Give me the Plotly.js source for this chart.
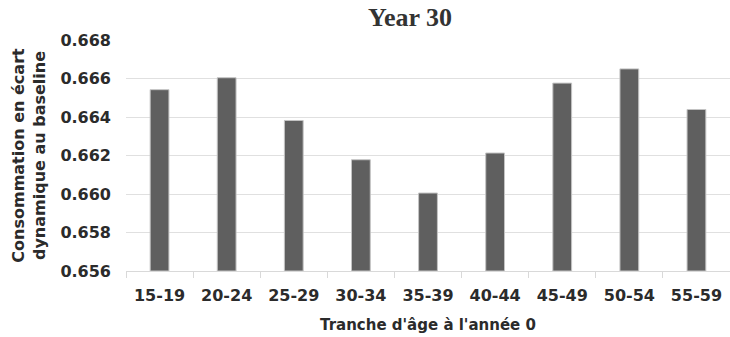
<!DOCTYPE html>
<html>
<head>
<meta charset="utf-8">
<script src="https://cdn.plot.ly/plotly-3.0.1.min.js"></script>
<style>html,body{margin:0;padding:0;background:#fff;}#chart{width:730px;height:337px;}</style>
</head>
<body>
<div id="chart"></div>
<script>
const categories = ["15-19","20-24","25-29","30-34","35-39","40-44","45-49","50-54","55-59"];
const values = [0.66542, 0.66604, 0.66382, 0.66178, 0.66005, 0.66213, 0.66576, 0.66650, 0.66439];
const yTickValues = [0.656, 0.658, 0.660, 0.662, 0.664, 0.666, 0.668];
const baseValue = 0.656;

const textColor = "#2b2b2b";
const tickFont = {family: "DejaVu Sans", size: 16, color: textColor, weight: "bold"};

Plotly.newPlot("chart", [{
  type: "bar",
  x: categories,
  y: values.map(v => v - baseValue),
  base: baseValue,
  marker: {color: "#5f5f5f", line: {color: "#c4c4c4", width: 1}},
  hoverinfo: "skip"
}], {
  width: 730, height: 337,
  margin: {l: 126, r: 0, t: 40, b: 66},
  paper_bgcolor: "#fff", plot_bgcolor: "#fff",
  bargap: 0.72,
  showlegend: false,
  title: {text: "<b>Year 30</b>", font: {family: "Liberation Serif", size: 26, color: "#333"},
          x: 410/730, xanchor: "center", xref: "container", y: 1 - 17/337, yanchor: "middle", yref: "container"},
  xaxis: {
    type: "category",
    tickfont: tickFont,
    showgrid: false,
    showline: true, linecolor: "#d9d9d9", linewidth: 1,
    ticks: "outside", tickson: "boundaries", ticklen: 6, tickcolor: "#d9d9d9",
    ticklabelstandoff: 10,
    title: {text: "Tranche d'âge à l'année 0", font: {family: "DejaVu Sans", size: 15, color: textColor, weight: "bold"}, standoff: 15}
  },
  yaxis: {
    range: [0.656, 0.668],
    tickvals: yTickValues,
    ticktext: yTickValues.map(v => v.toFixed(3)),
    tickfont: tickFont,
    showgrid: true, gridcolor: "#e0e0e0", gridwidth: 1,
    zeroline: false, showline: false,
    ticks: "", ticklabelstandoff: 14,
    title: {text: "Consommation en écart<br>dynamique au baseline", font: {family: "DejaVu Sans", size: 16, color: textColor, weight: "bold", lineposition: "none"}, standoff: 10}
  }
}, {displayModeBar: false, staticPlot: true});
</script>
</body>
</html>
